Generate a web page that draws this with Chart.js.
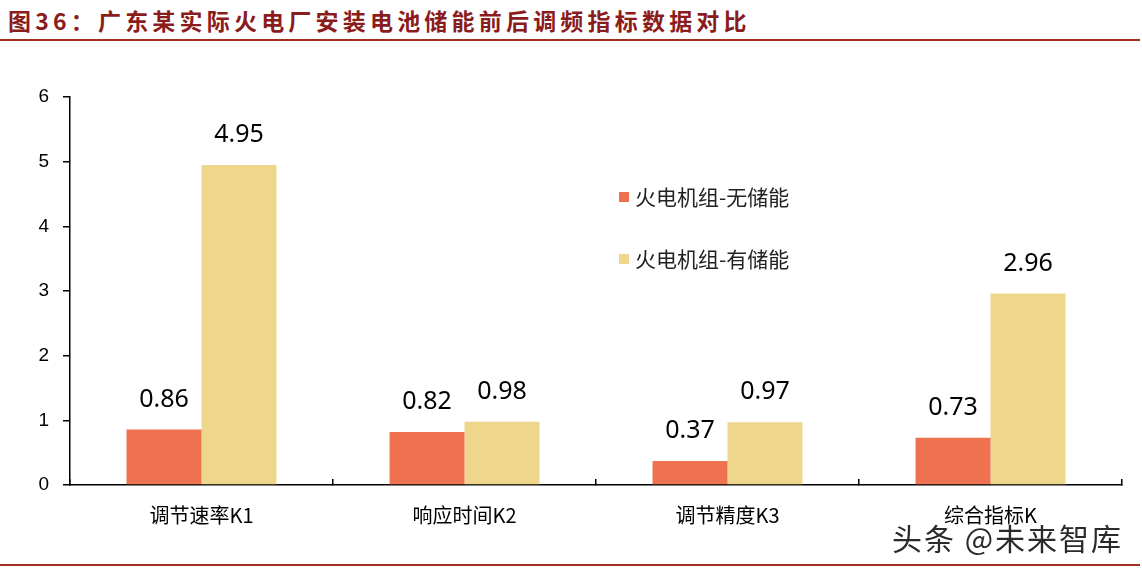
<!DOCTYPE html>
<html>
<head>
<meta charset="utf-8">
<script src="https://cdn.jsdelivr.net/npm/chart.js@4"></script>
<style>
    body { margin: 0; background: #fff; width: 1142px; height: 570px; overflow: hidden; position: relative; }
    #title {
        position: absolute; left: 8px; top: 3px;
        font-family: "Noto Sans CJK SC", sans-serif; font-weight: bold;
        font-size: 23px; letter-spacing: 4.2px; color: #8b1c1c; white-space: nowrap;
    }
    .rule { position: absolute; left: 0; width: 1140px; height: 2px; background: #a3301f; }
    #wrap { position: absolute; left: 0; top: 0; width: 1142px; height: 570px; }
    #mark {
        position: absolute; left: 892px; top: 515px;
        font-family: "Noto Sans CJK SC", sans-serif; font-size: 30px; letter-spacing: 2px; color: #2a2a2a;
        text-shadow: 0 0 2px #fff, 0 0 2px #fff; white-space: nowrap;
    }
</style>
</head>
<body>
<div id="title">图36：广东某实际火电厂安装电池储能前后调频指标数据对比</div>
<div class="rule" style="top:39px"></div>
<div id="wrap"><canvas id="chart" width="1142" height="570"></canvas></div>
<div id="mark">头条 @未来智库</div>
<div class="rule" style="top:564px"></div>
<script>
document.addEventListener('DOMContentLoaded', () => {
    const categories = ['调节速率K1', '响应时间K2', '调节精度K3', '综合指标K'];
    const withoutStorage = [0.86, 0.82, 0.37, 0.73];
    const withStorage = [4.95, 0.98, 0.97, 2.96];
    const seriesNames = ['火电机组-无储能', '火电机组-有储能'];
    const yTicks = [0, 1, 2, 3, 4, 5, 6];

    const fontFamily = '"Liberation Sans", "Noto Sans CJK SC", sans-serif';
    const cjkFamily = '"Noto Sans CJK SC", sans-serif';

    // value labels above each bar
    const valueLabels = {
        id: 'valueLabels',
        afterDatasetsDraw(chart) {
            const ctx = chart.ctx;
            ctx.save();
            ctx.font = '25px "Noto Sans", sans-serif';
            ctx.fillStyle = '#000';
            ctx.textAlign = 'center';
            ctx.textBaseline = 'middle';
            chart.data.datasets.forEach((ds, i) => {
                chart.getDatasetMeta(i).data.forEach((bar, j) => {
                    ctx.fillText(ds.data[j].toFixed(2), bar.x, bar.y - 30);
                });
            });
            ctx.restore();
        }
    };

    // legend drawn inside the plot area
    const innerLegend = {
        id: 'innerLegend',
        afterDraw(chart) {
            const ctx = chart.ctx;
            ctx.save();
            ctx.font = '21px ' + cjkFamily;
            ctx.textBaseline = 'middle';
            chart.data.datasets.forEach((ds, i) => {
                const y = 197 + i * 62;
                ctx.fillStyle = ds.backgroundColor;
                ctx.fillRect(619, y - 5, 10, 10);
                ctx.fillStyle = '#222';
                ctx.fillText(ds.label, 635, y);
            });
            ctx.restore();
        }
    };

    new Chart(document.getElementById('chart'), {
        type: 'bar',
        data: {
            labels: categories,
            datasets: [
                { label: seriesNames[0], data: withoutStorage, backgroundColor: '#ee7150' },
                { label: seriesNames[1], data: withStorage, backgroundColor: '#eed78c' }
            ]
        },
        options: {
            responsive: false,
            animation: false,
            categoryPercentage: 0.57,
            barPercentage: 1,
            layout: { padding: { left: 0, right: 20, top: 97, bottom: 0 } },
            plugins: { legend: { display: false }, tooltip: { enabled: false } },
            scales: {
                x: {
                    afterFit(scale) { scale.height = 85; },
                    border: { color: '#000', width: 1.5 },
                    grid: { drawOnChartArea: false, tickLength: -6, color: '#000', lineWidth: 1.5 },
                    ticks: { color: '#000', padding: 24, font: { size: 20, family: cjkFamily } }
                },
                y: {
                    min: 0,
                    max: 6,
                    afterFit(scale) { scale.width = 70; },
                    afterBuildTicks(scale) { scale.ticks = yTicks.map(v => ({ value: v })); },
                    border: { color: '#000', width: 1.5 },
                    grid: { drawOnChartArea: false, tickLength: 7, color: '#000', lineWidth: 1.5 },
                    ticks: { color: '#000', padding: 14, font: { size: 19, family: fontFamily } }
                }
            }
        },
        plugins: [valueLabels, innerLegend]
    });
});
</script>
</body>
</html>
